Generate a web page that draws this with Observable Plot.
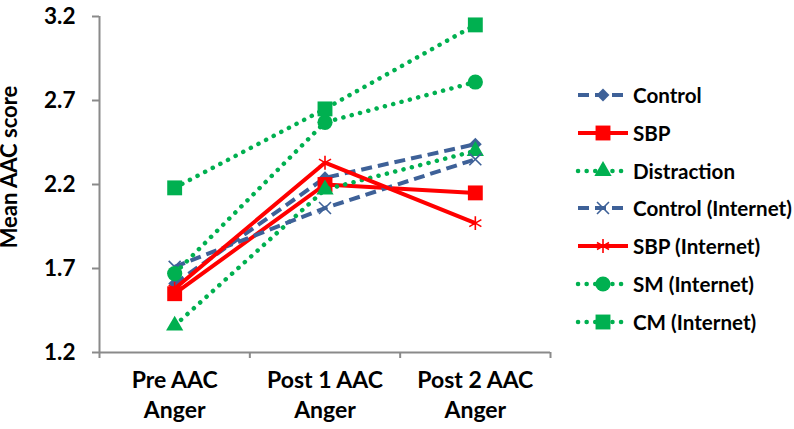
<!DOCTYPE html>
<html><head><meta charset="utf-8">
<script src="https://cdn.jsdelivr.net/npm/d3@7"></script>
<script src="https://cdn.jsdelivr.net/npm/@observablehq/plot@0.6"></script>
<style>
html,body{margin:0;padding:0;background:#fff;}
#wrap{position:relative;width:794px;height:429px;font-family:Lato,"Open Sans",sans-serif;font-weight:bold;overflow:hidden;}
#legend{position:absolute;left:578px;top:0;}
.row{position:absolute;left:0;height:24px;display:flex;align-items:center;white-space:nowrap;font-size:20.6px;color:#000;}
.row svg{display:block;margin-right:5px;overflow:visible}
#ylabel{position:absolute;left:9px;top:167px;transform:translate(-50%,-50%) rotate(-90deg);white-space:nowrap;font-size:22px;color:#000;line-height:0.8;}
</style></head><body><div id="wrap"><div id="chart"></div><div id="ylabel"></div><div id="legend"></div></div>
<script>
// ---- data ----
const categories = ["Pre AAC\nAnger", "Post 1 AAC\nAnger", "Post 2 AAC\nAnger"];
const yTicks = [1.2, 1.7, 2.2, 2.7, 3.2];
const yLabel = "Mean AAC score";
const seriesNames = ["Control", "SBP", "Distraction", "Control (Internet)", "SBP (Internet)", "SM (Internet)", "CM (Internet)"];
const control = [1.61, 2.24, 2.44];
const sbp = [1.55, 2.20, 2.15];
const distraction = [1.36, 2.17, 2.40];
const controlInternet = [1.71, 2.06, 2.35];
const sbpInternet = [1.58, 2.33, 1.97];
const smInternet = [1.67, 2.57, 2.81];
const cmInternet = [2.18, 2.65, 3.15];
const seriesValues = [control, sbp, distraction, controlInternet, sbpInternet, smInternet, cmInternet];

// ---- styles ----
const BLUE = "#3E6198", RED = "#FF0000", GREEN = "#00B050";
const lineStyles = {
  dash: {strokeWidth: 4, strokeDasharray: "11 6", strokeLinecap: "butt"},
  solid: {strokeWidth: 4, strokeLinecap: "butt"},
  dot: {strokeWidth: 4.5, strokeDasharray: "0.1 8.5", strokeLinecap: "round"}
};
const styles = {
  "Control": {color: BLUE, line: "dash", symbol: "diamond2", r: 5.8, filled: true},
  "SBP": {color: RED, line: "solid", symbol: "square", r: 8.4, filled: true},
  "Distraction": {color: GREEN, line: "dot", symbol: "triangle", r: 6.4, filled: true},
  "Control (Internet)": {color: BLUE, line: "dash", symbol: "times", r: 5.5, filled: false},
  "SBP (Internet)": {color: RED, line: "solid", symbol: "asterisk", r: 6.6, filled: false},
  "SM (Internet)": {color: GREEN, line: "dot", symbol: "circle", r: 7.6, filled: true},
  "CM (Internet)": {color: GREEN, line: "dot", symbol: "square", r: 8.4, filled: true}
};

const data = seriesNames.flatMap((name, s) =>
  seriesValues[s].map((v, i) => ({series: name, x: i + 0.5, y: v})));

const AXIS = "#8A8A8A";
const marks = [
  Plot.ruleY([yTicks[0]], {stroke: AXIS, strokeWidth: 2}),
  Plot.ruleX([0], {stroke: AXIS, strokeWidth: 2}),
  Plot.axisY({ticks: yTicks, tickSize: 7, tickPadding: 17, stroke: AXIS, strokeWidth: 2, fill: "#000",
    fontSize: 22.5, fontWeight: "bold", tickFormat: d => d.toFixed(1), label: null}),
  Plot.axisX({ticks: d3.range(categories.length + 1), tickSize: 6, stroke: AXIS, strokeWidth: 2,
    tickFormat: () => "", label: null}),
  Plot.text(categories, {x: (d, i) => i + 0.5, text: d => d, frameAnchor: "bottom", lineAnchor: "top",
    dy: 14, fontSize: 23, fontWeight: "bold", lineHeight: 1.3, fill: "#000"})
];
for (const name of seriesNames) {
  const st = styles[name];
  const pts = data.filter(d => d.series === name);
  marks.push(Plot.line(pts, {x: "x", y: "y", stroke: st.color, ...lineStyles[st.line]}));
  marks.push(Plot.dot(pts, st.filled
    ? {x: "x", y: "y", symbol: st.symbol, r: st.r, fill: st.color, stroke: "none"}
    : {x: "x", y: "y", symbol: st.symbol, r: st.r, fill: "none", stroke: st.color, strokeWidth: 1.6}));
}

const chart = Plot.plot({
  width: 794, height: 429,
  marginLeft: 99, marginRight: 244, marginTop: 16, marginBottom: 77,
  x: {domain: [0, categories.length]},
  y: {domain: [yTicks[0], yTicks[yTicks.length - 1]]},
  style: {fontFamily: "Lato, 'Open Sans', sans-serif", fontWeight: "bold", background: "white", overflow: "visible"},
  marks
});
document.getElementById("chart").appendChild(chart);
document.getElementById("ylabel").textContent = yLabel;

// ---- legend ----
const symMap = {diamond2: d3.symbolDiamond2, square: d3.symbolSquare, triangle: d3.symbolTriangle,
  times: d3.symbolTimes, asterisk: d3.symbolAsterisk, circle: d3.symbolCircle};
const legend = d3.select("#legend");
seriesNames.forEach((name, i) => {
  const st = styles[name];
  const ls = lineStyles[st.line];
  const row = legend.append("div").attr("class", "row").style("top", (95 + i * 37.8 - 12) + "px");
  const svg = row.append("svg").attr("width", 50).attr("height", 24);
  svg.append("line").attr("x1", 0).attr("x2", 50).attr("y1", 12).attr("y2", 12)
    .attr("stroke", st.color).attr("stroke-width", ls.strokeWidth)
    .attr("stroke-dasharray", ls.strokeDasharray || null).attr("stroke-linecap", ls.strokeLinecap);
  svg.append("path").attr("transform", "translate(25,12)")
    .attr("d", d3.symbol(symMap[st.symbol], st.r * st.r * Math.PI)())
    .attr("fill", st.filled ? st.color : "none")
    .attr("stroke", st.filled ? "none" : st.color).attr("stroke-width", st.filled ? 0 : 1.6);
  row.append("span").text(name);
});
</script>
</body></html>
